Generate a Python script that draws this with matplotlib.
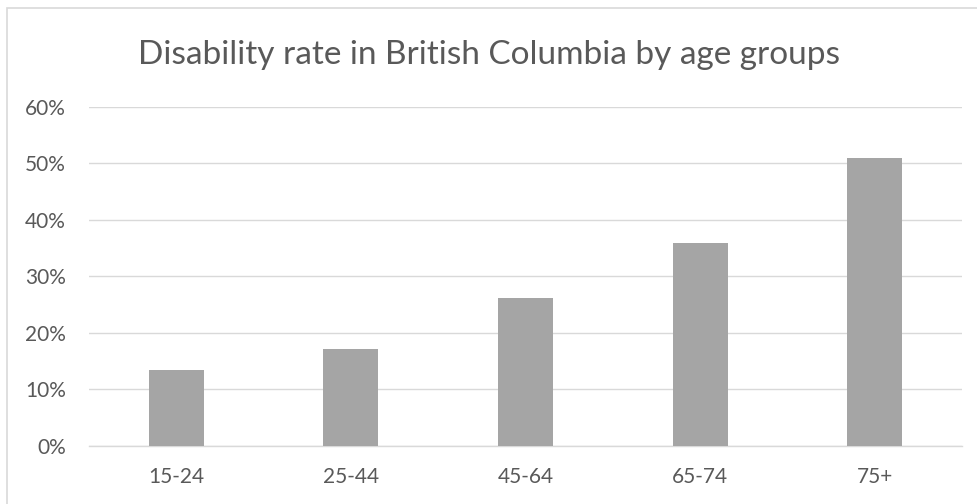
import matplotlib
matplotlib.use("Agg")
import matplotlib.pyplot as plt
from matplotlib.patches import Rectangle
from matplotlib.ticker import FuncFormatter, MultipleLocator

categories = ["15-24", "25-44", "45-64", "65-74", "75+"]
rates = [13.4, 17.1, 26.2, 35.8, 51.0]
title = "Disability rate in British Columbia by age groups"

plt.rcParams['font.family'] = ['Lato', 'DejaVu Sans']

fig = plt.figure(figsize=(9.78, 5.04), dpi=100)
ax = fig.add_axes([89/978, 1-445.7/504, (962-89)/978, (445.7-106.7)/504])

x = list(range(len(categories)))
ax.bar(x, rates, width=0.315, color="#A5A5A5", zorder=3)
ax.set_xlim(-0.5, len(categories) - 0.5)
ax.set_ylim(0, 60)
ax.yaxis.set_major_locator(MultipleLocator(10))
ax.yaxis.set_major_formatter(FuncFormatter(lambda v, p: f"{int(v)}%"))
ax.set_xticks(x)
ax.set_xticklabels(categories)
ax.grid(axis='y', color="#D9D9D9", linewidth=1.0, zorder=0)
for s in ['top', 'right', 'left']:
    ax.spines[s].set_visible(False)
ax.spines['bottom'].set_color("#D9D9D9")
ax.spines['bottom'].set_linewidth(1.0)
ax.tick_params(axis='both', length=0, labelsize=15, labelcolor="#595959")
ax.tick_params(axis='y', pad=16.5)
ax.tick_params(axis='x', pad=15.5)

fig.text(0.5, 1-63.5/504, title, ha='center', va='baseline', fontsize=24, color="#595959")

fig.patches.append(Rectangle((7/978, -0.1), 1.2, 1-8/504+0.1, transform=fig.transFigure,
                             fill=False, edgecolor="#D9D9D9", linewidth=1.2))

fig.savefig("out.png", dpi=100)
